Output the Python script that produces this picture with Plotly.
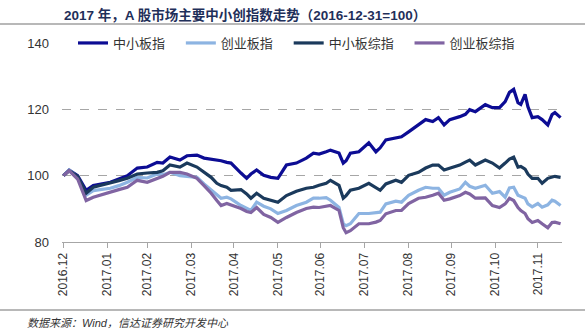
import plotly.graph_objects as go

dates = [
    "2016-12-31", "2017-01-04", "2017-01-10", "2017-01-16", "2017-01-21", "2017-01-26",
    "2017-02-02", "2017-02-08", "2017-02-14", "2017-02-21", "2017-02-28", "2017-03-07",
    "2017-03-11", "2017-03-16", "2017-03-23", "2017-03-28", "2017-04-04", "2017-04-09",
    "2017-04-14", "2017-04-18", "2017-04-21", "2017-04-25", "2017-04-28", "2017-05-05",
    "2017-05-09", "2017-05-12", "2017-05-16", "2017-05-21", "2017-05-26", "2017-05-31",
    "2017-06-06", "2017-06-13", "2017-06-20", "2017-06-25", "2017-06-29", "2017-07-04",
    "2017-07-07", "2017-07-13", "2017-07-16", "2017-07-18", "2017-07-21", "2017-07-27",
    "2017-08-03", "2017-08-08", "2017-08-11", "2017-08-15", "2017-08-22", "2017-08-26",
    "2017-08-31", "2017-09-07", "2017-09-12", "2017-09-17", "2017-09-21", "2017-09-25",
    "2017-09-29", "2017-10-06", "2017-10-10", "2017-10-13", "2017-10-17", "2017-10-24",
    "2017-10-29", "2017-11-03", "2017-11-07", "2017-11-10", "2017-11-13", "2017-11-16",
    "2017-11-18", "2017-11-21", "2017-11-23", "2017-11-26", "2017-11-30", "2017-12-03",
    "2017-12-07", "2017-12-10", "2017-12-12", "2017-12-16",
]

sme_index = [  # 中小板指
    100, 101.7, 100, 95.6, 97, 97.5, 98, 99, 100, 102.3, 102.6, 104,
    103.8, 105.6, 104.7, 106, 106.2, 105.3, 105, 104.7, 104.5, 104, 103.8, 100.8,
    99.2, 100.5, 101.7, 100.1, 99.5, 99.2, 103.2, 103.8, 105.3, 106.8, 106.5, 107.2,
    107.7, 106.8, 103.8, 104.5, 106.8, 107.2, 109.9, 107.2, 108.4, 110.8, 111.4, 111.7,
    113.2, 115.3, 116.9, 116.3, 117.5, 115.3, 116.9, 117.8, 118.5, 119.9, 119.3, 121.4,
    120.5, 120.5, 122.3, 125.1, 126, 122, 121.5, 124.5, 120.8, 117.5, 117.8, 116.9,
    115.3, 118.4, 119, 117.5,
]

chinext_index = [  # 创业板指
    100, 101.7, 99.5, 94.1, 95.5, 95.8, 96.2, 97, 98, 99.5, 99.3, 100.5,
    100.3, 101, 100, 99.8, 99.5, 97.5, 95.6, 94.2, 93.2, 93.5, 93, 91,
    90, 89.5, 92, 90.8, 90, 88.6, 89.5, 91, 92, 93.2, 93.2, 93.4,
    92.6, 90.4, 85.5, 84.9, 85.5, 88.6, 88.6, 88.9, 89, 91.5, 92.3, 92,
    94.1, 95.6, 96.5, 96.2, 96.2, 94.1, 95, 96, 98, 96.8, 96.2, 97.1,
    94.7, 95.2, 93.5, 96.3, 96.5, 94.1, 93.8, 93.2, 91.5, 90.6, 91.6, 90.5,
    91.2, 92.6, 92.3, 91,
]

sme_composite = [  # 中小板综指
    100, 101.5, 99.8, 94.7, 96.5, 97, 97.7, 98.5, 99.2, 100.5, 100.8, 101,
    101.5, 103.2, 102.6, 103.8, 102.6, 101, 99.5, 97.7, 97, 96.5, 95.6, 95.8,
    94.5, 93.2, 94.7, 93.2, 92.6, 92, 94, 95.3, 96.2, 96.5, 97.1, 97.7,
    98.6, 97.1, 93.2, 94, 95.6, 96.2, 97.7, 96.5, 95.6, 97.5, 98.6, 98,
    100.1, 101, 102.3, 103.2, 103.2, 101.7, 102.2, 103.2, 104.1, 104.7, 103.2, 104.7,
    103.8, 102.3, 103.8, 105, 105.6, 102.6, 102.8, 102, 100.5, 99.2, 99.2, 97.7,
    99.2, 99.5, 99.8, 99.5,
]

chinext_composite = [  # 创业板综指
    100, 101.5, 99, 92.5, 93.5, 94.2, 95, 95.8, 96.5, 98.6, 98, 99.3,
    99.8, 101, 101, 100.5, 99.2, 97, 94.7, 92.5, 91, 91.6, 91.2, 90.1,
    89.2, 88.9, 90.4, 88.3, 87.4, 85.9, 87.4, 88.9, 90.1, 90.5, 90.4, 90.8,
    91, 89.5, 84.3, 82.8, 83.4, 85.5, 85.5, 86, 86.5, 88.5, 89.5, 89.5,
    91.6, 93.2, 93.5, 94.1, 94.7, 92.6, 93, 94, 95, 94.5, 93.2, 93.3,
    91, 90.4, 91.5, 93.2, 92.5, 90.4, 89.5, 88.6, 87, 85.9, 86.5, 85.5,
    84.3, 85.9, 86, 85.5,
]

series_names = ["中小板指", "创业板指", "中小板综指", "创业板综指"]
series_values = [sme_index, chinext_index, sme_composite, chinext_composite]
series_colors = ["#0C0C94", "#8DB4E2", "#1B3A5C", "#8064A2"]

tick_dates = ["2016-12-31", "2017-01-31", "2017-02-28", "2017-03-31", "2017-04-30",
              "2017-05-31", "2017-06-30", "2017-07-31", "2017-08-31", "2017-09-30",
              "2017-10-31", "2017-11-30"]
tick_labels = ["2016.12", "2017.01", "2017.02", "2017.03", "2017.04", "2017.05",
               "2017.06", "2017.07", "2017.08", "2017.09", "2017.10", "2017.11"]

FONT = "Liberation Sans, Arial, Noto Sans CJK SC, sans-serif"

fig = go.Figure()
for name, vals, col in zip(series_names, series_values, series_colors):
    fig.add_trace(go.Scatter(x=dates, y=vals, name=name + "\u00a0\u00a0\u00a0", mode="lines",
                             line=dict(color=col, width=3.2)))

fig.update_layout(
    width=585, height=334,
    margin=dict(l=62, r=23, t=43, b=92),
    paper_bgcolor="white", plot_bgcolor="white",
    font=dict(family=FONT, size=13, color="#333333"),
    showlegend=True,
    legend=dict(orientation="h", x=0.022, y=1.0, xanchor="left", yanchor="middle",
                bgcolor="rgba(0,0,0,0)", font=dict(size=13, color="#333333"),
                itemwidth=30, traceorder="normal"),
    xaxis=dict(type="date", range=["2016-12-30", "2017-12-17"],
               tickvals=tick_dates, ticktext=tick_labels, tickangle=-90,
               ticks="outside", ticklen=5, tickcolor="#A6A6A6",
               showline=True, linecolor="#A6A6A6", linewidth=1,
               showgrid=False, zeroline=False,
               tickfont=dict(size=12, color="#333333")),
    yaxis=dict(range=[80, 140], tickvals=[80, 100, 120, 140],
               showgrid=True, gridcolor="#A6A6A6", griddash="dash", gridwidth=1,
               zeroline=False, showline=False, ticks="", ticklabelstandoff=12,
               tickfont=dict(size=13, color="#333333")),
    annotations=[
        dict(text="<b>2017 年，A 股市场主要中小创指数走势（2016-12-31=100）</b>",
             xref="paper", yref="paper", x=0.0, y=1.14, xanchor="left", yanchor="middle",
             showarrow=False, font=dict(size=13.5, color="#1F2F5A",
                                        family="Liberation Sans, Noto Sans CJK SC, sans-serif")),
        dict(text="<i>数据来源：Wind，信达证券研究开发中心</i>",
             xref="paper", yref="paper", x=-0.074, y=-0.407, xanchor="left", yanchor="middle",
             showarrow=False, font=dict(size=11, color="#333333")),
    ],
    shapes=[
        dict(type="line", xref="paper", yref="paper", x0=-0.124, x1=1.046, y0=1.0955, y1=1.0955,
             line=dict(color="#A0A0A0", width=1.5)),
        dict(type="line", xref="paper", yref="paper", x0=-0.124, x1=1.046, y0=-0.342, y1=-0.342,
             line=dict(color="#A0A0A0", width=1.5)),
    ],
)

fig.write_html("out.html")
